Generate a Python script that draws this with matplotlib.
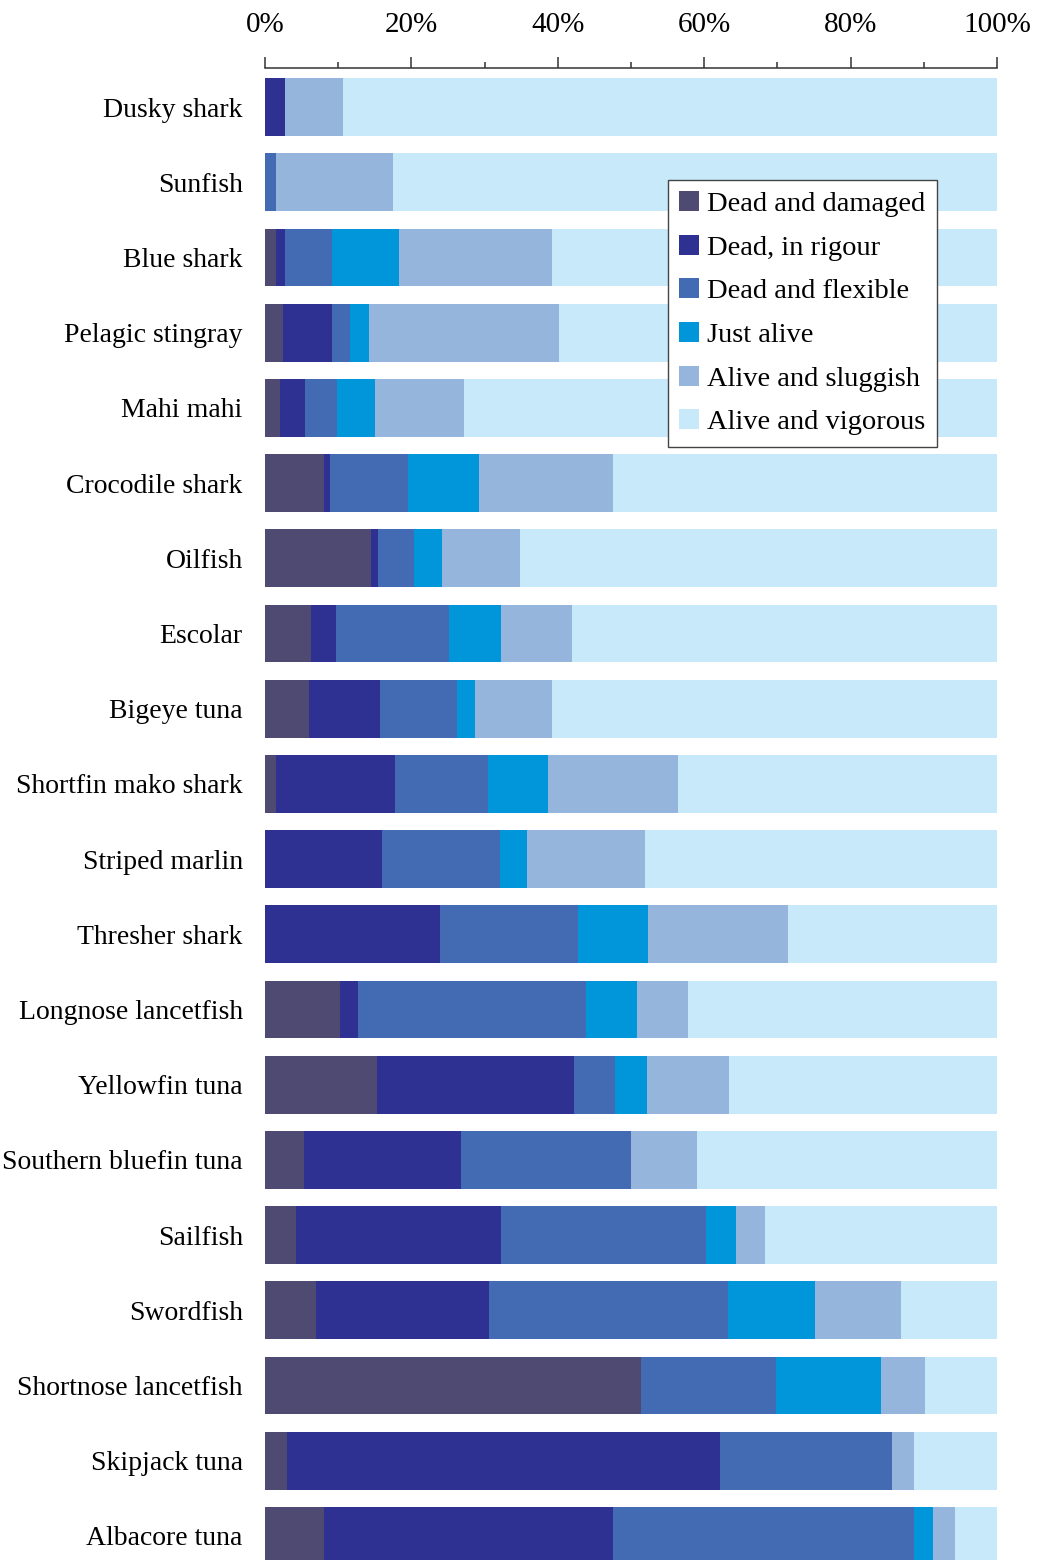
import numpy as np
import matplotlib
matplotlib.use("Agg")
import matplotlib.pyplot as plt
from matplotlib.ticker import MultipleLocator, FuncFormatter

plt.rcParams['font.family'] = ['Liberation Serif', 'DejaVu Serif']

species = ["Dusky shark", "Sunfish", "Blue shark", "Pelagic stingray", "Mahi mahi",
           "Crocodile shark", "Oilfish", "Escolar", "Bigeye tuna", "Shortfin mako shark",
           "Striped marlin", "Thresher shark", "Longnose lancetfish", "Yellowfin tuna",
           "Southern bluefin tuna", "Sailfish", "Swordfish", "Shortnose lancetfish",
           "Skipjack tuna", "Albacore tuna"]

# cumulative right edges (%), per condition
dead_damaged = [0.0, 0.0, 1.5, 2.5, 2.0, 8.1, 14.5, 6.3, 6.0, 1.5,
                0.0, 0.0, 10.2, 15.3, 5.3, 4.2, 6.9, 51.4, 3.0, 8.1]
dead_rigour = [2.7, 0.0, 2.7, 9.2, 5.5, 8.9, 15.4, 9.7, 15.7, 17.8,
               16.0, 23.9, 12.7, 42.2, 26.8, 32.2, 30.6, 51.4, 62.1, 47.5]
dead_flexible = [2.7, 1.5, 9.2, 11.6, 9.8, 19.5, 20.4, 25.1, 26.2, 30.5,
                 32.1, 42.8, 43.9, 47.8, 50.0, 60.3, 63.2, 69.8, 85.6, 88.7]
just_alive = [2.7, 1.5, 18.3, 14.2, 15.0, 29.2, 24.2, 32.2, 28.7, 38.7,
              35.8, 52.3, 50.8, 52.2, 50.0, 64.4, 75.2, 84.2, 85.6, 91.3]
alive_sluggish = [10.7, 17.5, 39.2, 40.2, 27.2, 47.5, 34.8, 41.9, 39.2, 56.4,
                  51.9, 71.4, 57.8, 63.4, 59.0, 68.3, 86.9, 90.2, 88.7, 94.3]
alive_vigorous = [100.0] * 20

conditions = ["Dead and damaged", "Dead, in rigour", "Dead and flexible",
              "Just alive", "Alive and sluggish", "Alive and vigorous"]
colors = ["#4F4A72", "#2E3192", "#426BB4", "#0096D9", "#96B5DC", "#C7E9F9"]

edges = np.array([dead_damaged, dead_rigour, dead_flexible, just_alive,
                  alive_sluggish, alive_vigorous])
widths = np.diff(np.vstack([np.zeros(len(species)), edges]), axis=0)
lefts = np.vstack([np.zeros(len(species)), edges[:-1]])

fig = plt.figure(figsize=(10.37, 15.6), dpi=100)
ax = fig.add_axes([265 / 1037, 0.0, 732 / 1037, (1560 - 68) / 1560])

y = np.arange(len(species))
for k in range(len(conditions)):
    ax.barh(y, widths[k], left=lefts[k], height=0.77, color=colors[k],
            label=conditions[k], linewidth=0)

ax.set_xlim(0, 100)
ax.set_ylim(19.32, -0.52)
ax.set_yticks(y)
ax.set_yticklabels(species, fontsize=20)
ax.tick_params(axis='y', length=0, pad=16)

ax.xaxis.tick_top()
ax.xaxis.set_major_locator(MultipleLocator(20))
ax.xaxis.set_minor_locator(MultipleLocator(10))
ax.xaxis.set_major_formatter(FuncFormatter(lambda v, p: f"{v:.0f}%"))
ax.tick_params(axis='x', which='major', length=8, width=1.1, color='#333333',
               labelsize=21, pad=13.5)
ax.tick_params(axis='x', which='minor', length=4.5, width=1.1, color='#333333')

for s in ['left', 'right', 'bottom']:
    ax.spines[s].set_visible(False)
ax.spines['top'].set_color('#333333')
ax.spines['top'].set_linewidth(1.1)

leg = ax.legend(loc='upper left', bbox_to_anchor=(0.55, 0.925), fontsize=20.5,
                frameon=True, fancybox=False, framealpha=1, edgecolor='#444444',
                handlelength=0.7, handleheight=0.7, handletextpad=0.3,
                labelspacing=0.62, borderpad=0.4, borderaxespad=0)
leg.get_frame().set_linewidth(1.0)

fig.savefig("out.png", dpi=100)
